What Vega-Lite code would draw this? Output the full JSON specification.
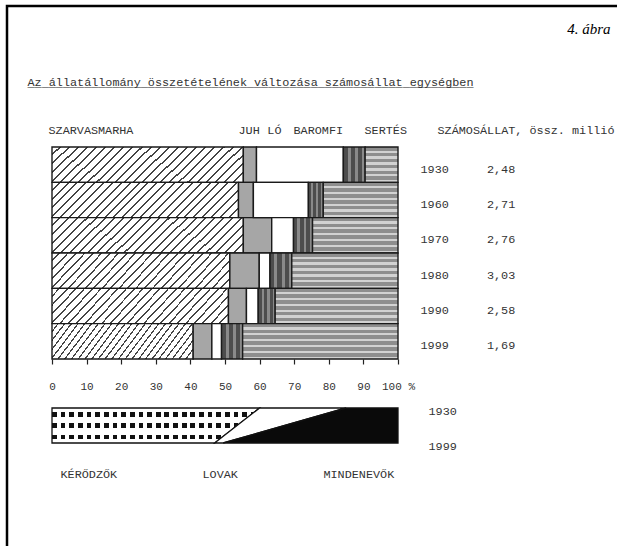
{
  "$schema": "https://vega.github.io/schema/vega-lite/v6.json",
  "description": "Az állatállomány összetételének változása számosállat egységben (4. ábra)",
  "width": 620,
  "height": 548,
  "autosize": {"type": "none"},
  "padding": {"left": 7, "top": 6, "right": 0, "bottom": 0},
  "background": "white",
  "config": {
    "view": {"stroke": "#000", "strokeWidth": 2.5},
    "locale": {"number": {"decimal": ",", "thousands": " ", "grouping": [3], "currency": ["", ""]}},
    "axis": {"labelFont": "Liberation Mono", "labelColor": "#333", "labelFontSize": 11.8, "grid": false, "labelOverlap": false, "labelBound": false, "labelFlush": false}
  },
  "datasets": {
    "bars": [
      {"year": 1930, "species": "SZARVASMARHA", "share": 55.3},
      {"year": 1930, "species": "JUH", "share": 3.8},
      {"year": 1930, "species": "LÓ", "share": 25.1},
      {"year": 1930, "species": "BAROMFI", "share": 6.3},
      {"year": 1930, "species": "SERTÉS", "share": 9.5},
      {"year": 1960, "species": "SZARVASMARHA", "share": 53.9},
      {"year": 1960, "species": "JUH", "share": 4.3},
      {"year": 1960, "species": "LÓ", "share": 15.9},
      {"year": 1960, "species": "BAROMFI", "share": 4.3},
      {"year": 1960, "species": "SERTÉS", "share": 21.6},
      {"year": 1970, "species": "SZARVASMARHA", "share": 55.3},
      {"year": 1970, "species": "JUH", "share": 8.2},
      {"year": 1970, "species": "LÓ", "share": 6.3},
      {"year": 1970, "species": "BAROMFI", "share": 5.5},
      {"year": 1970, "species": "SERTÉS", "share": 24.7},
      {"year": 1980, "species": "SZARVASMARHA", "share": 51.4},
      {"year": 1980, "species": "JUH", "share": 8.5},
      {"year": 1980, "species": "LÓ", "share": 3.1},
      {"year": 1980, "species": "BAROMFI", "share": 6.3},
      {"year": 1980, "species": "SERTÉS", "share": 30.7},
      {"year": 1990, "species": "SZARVASMARHA", "share": 51.0},
      {"year": 1990, "species": "JUH", "share": 5.2},
      {"year": 1990, "species": "LÓ", "share": 3.4},
      {"year": 1990, "species": "BAROMFI", "share": 4.9},
      {"year": 1990, "species": "SERTÉS", "share": 35.5},
      {"year": 1999, "species": "SZARVASMARHA", "share": 40.8},
      {"year": 1999, "species": "JUH", "share": 5.4},
      {"year": 1999, "species": "LÓ", "share": 2.8},
      {"year": 1999, "species": "BAROMFI", "share": 6.1},
      {"year": 1999, "species": "SERTÉS", "share": 44.9}
    ],
    "totals": [
      {"year": 1930, "total": 2.48},
      {"year": 1960, "total": 2.71},
      {"year": 1970, "total": 2.76},
      {"year": 1980, "total": 3.03},
      {"year": 1990, "total": 2.58},
      {"year": 1999, "total": 1.69}
    ],
    "band": [
      {"year": 1930, "group": "KÉRŐDZŐK", "share": 60},
      {"year": 1930, "group": "LOVAK", "share": 25},
      {"year": 1930, "group": "MINDENEVŐK", "share": 15},
      {"year": 1999, "group": "KÉRŐDZŐK", "share": 47},
      {"year": 1999, "group": "LOVAK", "share": 2.5},
      {"year": 1999, "group": "MINDENEVŐK", "share": 50.5}
    ]
  },
  "layer": [
    {
      "data": {"name": "bars"},
      "layer": [
        {
          "transform": [
            {"stack": "share", "groupby": ["year"], "as": ["x0", "x1"]},
            {"filter": "datum.species === 'SZARVASMARHA'"}
          ],
          "mark": {
            "type": "bar", "stroke": "#1a1a1a", "strokeWidth": 1.4,
            "fill": {"gradient": "linear", "x1": 0, "y1": 0, "x2": 1.1485, "y2": 0.2182, "stops": [
              {"offset": 0, "color": "#fff"}, {"offset": 0.031, "color": "#fff"}, {"offset": 0.031, "color": "#444"}, {"offset": 0.04, "color": "#444"},
              {"offset": 0.04, "color": "#fff"}, {"offset": 0.071, "color": "#fff"}, {"offset": 0.071, "color": "#444"}, {"offset": 0.08, "color": "#444"},
              {"offset": 0.08, "color": "#fff"}, {"offset": 0.111, "color": "#fff"}, {"offset": 0.111, "color": "#444"}, {"offset": 0.12, "color": "#444"},
              {"offset": 0.12, "color": "#fff"}, {"offset": 0.151, "color": "#fff"}, {"offset": 0.151, "color": "#444"}, {"offset": 0.16, "color": "#444"},
              {"offset": 0.16, "color": "#fff"}, {"offset": 0.191, "color": "#fff"}, {"offset": 0.191, "color": "#444"}, {"offset": 0.2, "color": "#444"},
              {"offset": 0.2, "color": "#fff"}, {"offset": 0.231, "color": "#fff"}, {"offset": 0.231, "color": "#444"}, {"offset": 0.24, "color": "#444"},
              {"offset": 0.24, "color": "#fff"}, {"offset": 0.271, "color": "#fff"}, {"offset": 0.271, "color": "#444"}, {"offset": 0.28, "color": "#444"},
              {"offset": 0.28, "color": "#fff"}, {"offset": 0.311, "color": "#fff"}, {"offset": 0.311, "color": "#444"}, {"offset": 0.32, "color": "#444"},
              {"offset": 0.32, "color": "#fff"}, {"offset": 0.351, "color": "#fff"}, {"offset": 0.351, "color": "#444"}, {"offset": 0.36, "color": "#444"},
              {"offset": 0.36, "color": "#fff"}, {"offset": 0.391, "color": "#fff"}, {"offset": 0.391, "color": "#444"}, {"offset": 0.4, "color": "#444"},
              {"offset": 0.4, "color": "#fff"}, {"offset": 0.431, "color": "#fff"}, {"offset": 0.431, "color": "#444"}, {"offset": 0.44, "color": "#444"},
              {"offset": 0.44, "color": "#fff"}, {"offset": 0.471, "color": "#fff"}, {"offset": 0.471, "color": "#444"}, {"offset": 0.48, "color": "#444"},
              {"offset": 0.48, "color": "#fff"}, {"offset": 0.511, "color": "#fff"}, {"offset": 0.511, "color": "#444"}, {"offset": 0.52, "color": "#444"},
              {"offset": 0.52, "color": "#fff"}, {"offset": 0.551, "color": "#fff"}, {"offset": 0.551, "color": "#444"}, {"offset": 0.56, "color": "#444"},
              {"offset": 0.56, "color": "#fff"}, {"offset": 0.591, "color": "#fff"}, {"offset": 0.591, "color": "#444"}, {"offset": 0.6, "color": "#444"},
              {"offset": 0.6, "color": "#fff"}, {"offset": 0.631, "color": "#fff"}, {"offset": 0.631, "color": "#444"}, {"offset": 0.64, "color": "#444"},
              {"offset": 0.64, "color": "#fff"}, {"offset": 0.671, "color": "#fff"}, {"offset": 0.671, "color": "#444"}, {"offset": 0.68, "color": "#444"},
              {"offset": 0.68, "color": "#fff"}, {"offset": 0.711, "color": "#fff"}, {"offset": 0.711, "color": "#444"}, {"offset": 0.72, "color": "#444"},
              {"offset": 0.72, "color": "#fff"}, {"offset": 0.751, "color": "#fff"}, {"offset": 0.751, "color": "#444"}, {"offset": 0.76, "color": "#444"},
              {"offset": 0.76, "color": "#fff"}, {"offset": 0.791, "color": "#fff"}, {"offset": 0.791, "color": "#444"}, {"offset": 0.8, "color": "#444"},
              {"offset": 0.8, "color": "#fff"}, {"offset": 0.831, "color": "#fff"}, {"offset": 0.831, "color": "#444"}, {"offset": 0.84, "color": "#444"},
              {"offset": 0.84, "color": "#fff"}, {"offset": 0.871, "color": "#fff"}, {"offset": 0.871, "color": "#444"}, {"offset": 0.88, "color": "#444"},
              {"offset": 0.88, "color": "#fff"}, {"offset": 0.911, "color": "#fff"}, {"offset": 0.911, "color": "#444"}, {"offset": 0.92, "color": "#444"},
              {"offset": 0.92, "color": "#fff"}, {"offset": 0.951, "color": "#fff"}, {"offset": 0.951, "color": "#444"}, {"offset": 0.96, "color": "#444"},
              {"offset": 0.96, "color": "#fff"}, {"offset": 1, "color": "#fff"}
            ]}
          },
          "encoding": {
            "x": {
              "field": "x0", "type": "quantitative",
              "scale": {"domain": [-13.006, 166.185], "nice": false, "zero": false},
              "axis": {
                "orient": "bottom", "offset": -195, "values": [0, 10, 20, 30, 40, 50, 60, 70, 80, 90, 100],
                "domain": false, "tickSize": 5, "tickColor": "#222", "tickWidth": 1.2, "labelPadding": 16,
                "labelFontSize": 11, "title": null,
                "labelExpr": "datum.value == 100 ? '\u00a0\u00a0100 %' : datum.label"
              }
            },
            "x2": {"field": "x1"},
            "y": {
              "field": "year", "type": "nominal",
              "scale": {"range": [141, 353], "paddingInner": 0, "paddingOuter": 0},
              "axis": {
                "orient": "right", "offset": -207, "ticks": false, "domain": false, "labelPadding": 0,
                "labelAlign": "left", "labelOffset": 4, "labelAngle": 0,
                "title": "4. ábra", "titleAngle": 0, "titleX": 190, "titleY": 22, "titleAlign": "right",
                "titleBaseline": "middle", "titleFont": "Liberation Serif", "titleFontStyle": "italic",
                "titleFontWeight": "normal", "titleFontSize": 15, "titleColor": "#000"
              }
            }
          }
        },
        {
          "transform": [
            {"stack": "share", "groupby": ["year"], "as": ["x0", "x1"]},
            {"filter": "datum.species === 'JUH'"}
          ],
          "mark": {"type": "bar", "stroke": "#1a1a1a", "strokeWidth": 1.4, "fill": "#a6a6a6"},
          "encoding": {
            "x": {"field": "x0", "type": "quantitative", "scale": {"domain": [-13.006, 166.185], "nice": false, "zero": false}, "axis": null},
            "x2": {"field": "x1"},
            "y": {"field": "year", "type": "nominal", "scale": {"range": [141, 353], "paddingInner": 0, "paddingOuter": 0}, "axis": null}
          }
        },
        {
          "transform": [
            {"stack": "share", "groupby": ["year"], "as": ["x0", "x1"]},
            {"filter": "datum.species === 'LÓ'"}
          ],
          "mark": {"type": "bar", "stroke": "#1a1a1a", "strokeWidth": 1.4, "fill": "#ffffff"},
          "encoding": {
            "x": {"field": "x0", "type": "quantitative", "scale": {"domain": [-13.006, 166.185], "nice": false, "zero": false}, "axis": null},
            "x2": {"field": "x1"},
            "y": {"field": "year", "type": "nominal", "scale": {"range": [141, 353], "paddingInner": 0, "paddingOuter": 0}, "axis": null}
          }
        },
        {
          "transform": [
            {"stack": "share", "groupby": ["year"], "as": ["x0", "x1"]},
            {"filter": "datum.species === 'BAROMFI'"}
          ],
          "mark": {
            "type": "bar", "stroke": "#1a1a1a", "strokeWidth": 1.4,
            "fill": {"gradient": "linear", "x1": 0, "y1": 0, "x2": 1, "y2": 0, "stops": [
              {"offset": 0, "color": "#4d4d4d"}, {"offset": 0.2, "color": "#4d4d4d"}, {"offset": 0.2, "color": "#8a8a8a"}, {"offset": 0.33, "color": "#8a8a8a"},
              {"offset": 0.33, "color": "#4d4d4d"}, {"offset": 0.53, "color": "#4d4d4d"}, {"offset": 0.53, "color": "#8a8a8a"}, {"offset": 0.67, "color": "#8a8a8a"},
              {"offset": 0.67, "color": "#4d4d4d"}, {"offset": 0.87, "color": "#4d4d4d"}, {"offset": 0.87, "color": "#8a8a8a"}, {"offset": 1, "color": "#8a8a8a"}
            ]}
          },
          "encoding": {
            "x": {"field": "x0", "type": "quantitative", "scale": {"domain": [-13.006, 166.185], "nice": false, "zero": false}, "axis": null},
            "x2": {"field": "x1"},
            "y": {"field": "year", "type": "nominal", "scale": {"range": [141, 353], "paddingInner": 0, "paddingOuter": 0}, "axis": null}
          }
        },
        {
          "transform": [
            {"stack": "share", "groupby": ["year"], "as": ["x0", "x1"]},
            {"filter": "datum.species === 'SERTÉS'"}
          ],
          "mark": {
            "type": "bar", "stroke": "#1a1a1a", "strokeWidth": 1.4,
            "fill": {"gradient": "linear", "x1": 0, "y1": 0, "x2": 0, "y2": 1, "stops": [
              {"offset": 0, "color": "#8e8e8e"}, {"offset": 0.1, "color": "#8e8e8e"}, {"offset": 0.1, "color": "#d2d2d2"}, {"offset": 0.1667, "color": "#d2d2d2"},
              {"offset": 0.1667, "color": "#8e8e8e"}, {"offset": 0.2667, "color": "#8e8e8e"}, {"offset": 0.2667, "color": "#d2d2d2"}, {"offset": 0.3333, "color": "#d2d2d2"},
              {"offset": 0.3333, "color": "#8e8e8e"}, {"offset": 0.4333, "color": "#8e8e8e"}, {"offset": 0.4333, "color": "#d2d2d2"}, {"offset": 0.5, "color": "#d2d2d2"},
              {"offset": 0.5, "color": "#8e8e8e"}, {"offset": 0.6, "color": "#8e8e8e"}, {"offset": 0.6, "color": "#d2d2d2"}, {"offset": 0.6667, "color": "#d2d2d2"},
              {"offset": 0.6667, "color": "#8e8e8e"}, {"offset": 0.7667, "color": "#8e8e8e"}, {"offset": 0.7667, "color": "#d2d2d2"}, {"offset": 0.8333, "color": "#d2d2d2"},
              {"offset": 0.8333, "color": "#8e8e8e"}, {"offset": 0.9333, "color": "#8e8e8e"}, {"offset": 0.9333, "color": "#d2d2d2"}, {"offset": 1, "color": "#d2d2d2"}
            ]}
          },
          "encoding": {
            "x": {"field": "x0", "type": "quantitative", "scale": {"domain": [-13.006, 166.185], "nice": false, "zero": false}, "axis": null},
            "x2": {"field": "x1"},
            "y": {"field": "year", "type": "nominal", "scale": {"range": [141, 353], "paddingInner": 0, "paddingOuter": 0}, "axis": null}
          }
        },
        {
          "data": {"name": "totals"},
          "mark": {"type": "text", "align": "left", "baseline": "middle", "dy": 4, "font": "Liberation Mono", "fontSize": 11.8, "color": "#333"},
          "encoding": {
            "x": {
              "datum": 125.7, "type": "quantitative",
              "scale": {"domain": [-13.006, 166.185], "nice": false, "zero": false},
              "axis": {
                "orient": "top", "offset": -129, "values": [-1.16, 53.76, 62.1, 69.65, 90.17, 111.27],
                "ticks": false, "domain": false, "labelPadding": 0, "labelAlign": "left",
                "labelExpr": "datum.value < 0 ? 'SZARVASMARHA' : datum.value < 60 ? 'JUH' : datum.value < 65 ? 'LÓ' : datum.value < 80 ? 'BAROMFI' : datum.value < 100 ? 'SERTÉS' : 'SZÁMOSÁLLAT, össz. millió'",
                "title": ["Az állatállomány összetételének változása számosállat egységben", "_______________________________________________________________"],
                "titleX": 20, "titleY": -50, "titleAngle": 0, "titleAlign": "left", "titleBaseline": "alphabetic",
                "titleFont": "Liberation Mono", "titleFontSize": 11.8, "titleFontWeight": "normal", "titleColor": "#333", "titleLineHeight": 1
              }
            },
            "y": {"field": "year", "type": "nominal", "scale": {"range": [141, 353], "paddingInner": 0, "paddingOuter": 0}, "axis": null},
            "text": {"field": "total", "type": "quantitative", "format": ".2f"}
          }
        }
      ],
      "resolve": {"axis": {"x": "independent", "y": "independent"}}
    },
    {
      "data": {"name": "band"},
      "layer": [
        {
          "transform": [
            {"stack": "share", "groupby": ["year"], "as": ["s0", "s1"]},
            {"filter": "datum.group === 'KÉRŐDZŐK'"}
          ],
          "mark": {
            "type": "area", "orient": "horizontal",
            "fill": {"gradient": "linear", "x1": 0, "y1": 0, "x2": 0, "y2": 1, "stops": [
              {"offset": 0, "color": "#fff"}, {"offset": 0.12, "color": "#fff"}, {"offset": 0.12, "color": "#111"}, {"offset": 0.25, "color": "#111"},
              {"offset": 0.25, "color": "#fff"}, {"offset": 0.44, "color": "#fff"}, {"offset": 0.44, "color": "#111"}, {"offset": 0.57, "color": "#111"},
              {"offset": 0.57, "color": "#fff"}, {"offset": 0.76, "color": "#fff"}, {"offset": 0.76, "color": "#111"}, {"offset": 0.89, "color": "#111"},
              {"offset": 0.89, "color": "#fff"}, {"offset": 1, "color": "#fff"}
            ]}
          },
          "encoding": {
            "x": {
              "field": "s0", "type": "quantitative",
              "scale": {"domain": [-13.006, 166.185], "nice": false, "zero": false},
              "axis": {
                "orient": "bottom", "offset": -86, "values": [2.31, 43.35, 78.3],
                "ticks": false, "domain": false, "labelPadding": 0, "labelAlign": "left", "title": null,
                "labelExpr": "datum.value < 20 ? 'KÉRŐDZŐK' : datum.value < 60 ? 'LOVAK' : 'MINDENEVŐK'"
              }
            },
            "x2": {"field": "s1"},
            "y": {
              "field": "year", "type": "quantitative",
              "scale": {"domain": [1930, 1999], "range": [402, 437], "nice": false, "zero": false},
              "axis": {
                "orient": "right", "offset": -199, "values": [1930, 1999], "format": "d",
                "ticks": false, "domain": false, "labelPadding": 0, "labelAlign": "left", "labelOffset": 2, "title": null
              }
            }
          }
        },
        {
          "transform": [
            {"stack": "share", "groupby": ["year"], "as": ["s0", "s1"]},
            {"filter": "datum.group === 'KÉRŐDZŐK'"}
          ],
          "mark": {
            "type": "area", "orient": "horizontal", "stroke": "#111", "strokeWidth": 1.3,
            "fill": {"gradient": "linear", "x1": 0, "y1": 0, "x2": 1, "y2": 0, "stops": [
              {"offset": 0, "color": "transparent"}, {"offset": 0.0229, "color": "transparent"}, {"offset": 0.0229, "color": "#fff"}, {"offset": 0.0417, "color": "#fff"},
              {"offset": 0.0417, "color": "transparent"}, {"offset": 0.0646, "color": "transparent"}, {"offset": 0.0646, "color": "#fff"}, {"offset": 0.0833, "color": "#fff"},
              {"offset": 0.0833, "color": "transparent"}, {"offset": 0.1062, "color": "transparent"}, {"offset": 0.1062, "color": "#fff"}, {"offset": 0.125, "color": "#fff"},
              {"offset": 0.125, "color": "transparent"}, {"offset": 0.1479, "color": "transparent"}, {"offset": 0.1479, "color": "#fff"}, {"offset": 0.1667, "color": "#fff"},
              {"offset": 0.1667, "color": "transparent"}, {"offset": 0.1896, "color": "transparent"}, {"offset": 0.1896, "color": "#fff"}, {"offset": 0.2083, "color": "#fff"},
              {"offset": 0.2083, "color": "transparent"}, {"offset": 0.2312, "color": "transparent"}, {"offset": 0.2312, "color": "#fff"}, {"offset": 0.25, "color": "#fff"},
              {"offset": 0.25, "color": "transparent"}, {"offset": 0.2729, "color": "transparent"}, {"offset": 0.2729, "color": "#fff"}, {"offset": 0.2917, "color": "#fff"},
              {"offset": 0.2917, "color": "transparent"}, {"offset": 0.3146, "color": "transparent"}, {"offset": 0.3146, "color": "#fff"}, {"offset": 0.3333, "color": "#fff"},
              {"offset": 0.3333, "color": "transparent"}, {"offset": 0.3562, "color": "transparent"}, {"offset": 0.3562, "color": "#fff"}, {"offset": 0.375, "color": "#fff"},
              {"offset": 0.375, "color": "transparent"}, {"offset": 0.3979, "color": "transparent"}, {"offset": 0.3979, "color": "#fff"}, {"offset": 0.4167, "color": "#fff"},
              {"offset": 0.4167, "color": "transparent"}, {"offset": 0.4396, "color": "transparent"}, {"offset": 0.4396, "color": "#fff"}, {"offset": 0.4583, "color": "#fff"},
              {"offset": 0.4583, "color": "transparent"}, {"offset": 0.4812, "color": "transparent"}, {"offset": 0.4812, "color": "#fff"}, {"offset": 0.5, "color": "#fff"},
              {"offset": 0.5, "color": "transparent"}, {"offset": 0.5229, "color": "transparent"}, {"offset": 0.5229, "color": "#fff"}, {"offset": 0.5417, "color": "#fff"},
              {"offset": 0.5417, "color": "transparent"}, {"offset": 0.5646, "color": "transparent"}, {"offset": 0.5646, "color": "#fff"}, {"offset": 0.5833, "color": "#fff"},
              {"offset": 0.5833, "color": "transparent"}, {"offset": 0.6062, "color": "transparent"}, {"offset": 0.6062, "color": "#fff"}, {"offset": 0.625, "color": "#fff"},
              {"offset": 0.625, "color": "transparent"}, {"offset": 0.6479, "color": "transparent"}, {"offset": 0.6479, "color": "#fff"}, {"offset": 0.6667, "color": "#fff"},
              {"offset": 0.6667, "color": "transparent"}, {"offset": 0.6896, "color": "transparent"}, {"offset": 0.6896, "color": "#fff"}, {"offset": 0.7083, "color": "#fff"},
              {"offset": 0.7083, "color": "transparent"}, {"offset": 0.7312, "color": "transparent"}, {"offset": 0.7312, "color": "#fff"}, {"offset": 0.75, "color": "#fff"},
              {"offset": 0.75, "color": "transparent"}, {"offset": 0.7729, "color": "transparent"}, {"offset": 0.7729, "color": "#fff"}, {"offset": 0.7917, "color": "#fff"},
              {"offset": 0.7917, "color": "transparent"}, {"offset": 0.8146, "color": "transparent"}, {"offset": 0.8146, "color": "#fff"}, {"offset": 0.8333, "color": "#fff"},
              {"offset": 0.8333, "color": "transparent"}, {"offset": 0.8562, "color": "transparent"}, {"offset": 0.8562, "color": "#fff"}, {"offset": 0.875, "color": "#fff"},
              {"offset": 0.875, "color": "transparent"}, {"offset": 0.8979, "color": "transparent"}, {"offset": 0.8979, "color": "#fff"}, {"offset": 0.9167, "color": "#fff"},
              {"offset": 0.9167, "color": "transparent"}, {"offset": 0.9396, "color": "transparent"}, {"offset": 0.9396, "color": "#fff"}, {"offset": 0.9583, "color": "#fff"},
              {"offset": 0.9583, "color": "transparent"}, {"offset": 0.9812, "color": "transparent"}, {"offset": 0.9812, "color": "#fff"}, {"offset": 1, "color": "#fff"}
            ]}
          },
          "encoding": {
            "x": {"field": "s0", "type": "quantitative", "scale": {"domain": [-13.006, 166.185], "nice": false, "zero": false}, "axis": null},
            "x2": {"field": "s1"},
            "y": {"field": "year", "type": "quantitative", "scale": {"domain": [1930, 1999], "range": [402, 437], "nice": false, "zero": false}, "axis": null}
          }
        },
        {
          "transform": [
            {"stack": "share", "groupby": ["year"], "as": ["s0", "s1"]},
            {"filter": "datum.group === 'LOVAK'"}
          ],
          "mark": {"type": "area", "orient": "horizontal", "fill": "#fff", "stroke": "#111", "strokeWidth": 1.3},
          "encoding": {
            "x": {"field": "s0", "type": "quantitative", "scale": {"domain": [-13.006, 166.185], "nice": false, "zero": false}, "axis": null},
            "x2": {"field": "s1"},
            "y": {"field": "year", "type": "quantitative", "scale": {"domain": [1930, 1999], "range": [402, 437], "nice": false, "zero": false}, "axis": null}
          }
        },
        {
          "transform": [
            {"stack": "share", "groupby": ["year"], "as": ["s0", "s1"]},
            {"filter": "datum.group === 'MINDENEVŐK'"}
          ],
          "mark": {"type": "area", "orient": "horizontal", "fill": "#0a0a0a", "stroke": "#111", "strokeWidth": 1.3},
          "encoding": {
            "x": {"field": "s0", "type": "quantitative", "scale": {"domain": [-13.006, 166.185], "nice": false, "zero": false}, "axis": null},
            "x2": {"field": "s1"},
            "y": {"field": "year", "type": "quantitative", "scale": {"domain": [1930, 1999], "range": [402, 437], "nice": false, "zero": false}, "axis": null}
          }
        }
      ],
      "resolve": {"axis": {"x": "independent", "y": "independent"}}
    }
  ],
  "resolve": {"scale": {"y": "independent"}, "axis": {"x": "independent", "y": "independent"}}
}
